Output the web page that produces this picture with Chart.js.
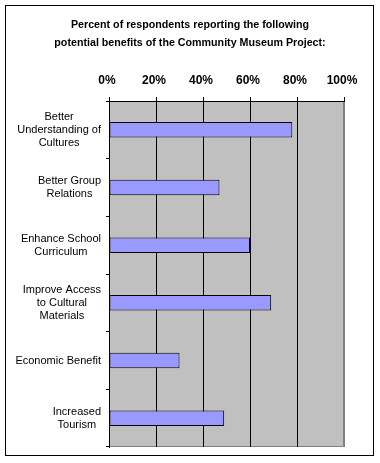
<!DOCTYPE html>
<html lang="en">
<head>
    <meta charset="utf-8">
    <title>Community Museum Project</title>
    <script src="https://cdn.jsdelivr.net/npm/chart.js"></script>
    <style>
        body { margin: 0; background: #fff; }
        #wrap { width: 380px; height: 463px; }
    </style>
</head>
<body>
<div id="wrap"><canvas id="chart" width="380" height="463"></canvas></div>

<script>
    // Data
    const categories = [
        ['Better', 'Understanding of', 'Cultures'],
        ['Better Group', 'Relations'],
        ['Enhance School', 'Curriculum'],
        ['Improve Access', 'to Cultural', 'Materials'],
        ['Economic Benefit'],
        ['Increased', 'Tourism']
    ];
    const percents = [78, 47, 60, 69, 30, 49];
    const tickValues = [0, 20, 40, 60, 80, 100];
    const titleLines = [
        'Percent of respondents reporting the following',
        'potential benefits of the Community Museum Project:'
    ];

    const FONT = '"Liberation Sans", Arial, sans-serif';

    // gray plot area + outer frame
    const frame = {
        id: 'frame',
        beforeDraw(chart) {
            const { ctx, chartArea: a } = chart;
            ctx.save();
            ctx.fillStyle = '#c0c0c0';
            ctx.fillRect(a.left, a.top, a.right - a.left, a.bottom - a.top);
            ctx.strokeStyle = '#808080';
            ctx.lineWidth = 1;
            ctx.beginPath();
            ctx.moveTo(a.right - 0.5, a.top);
            ctx.lineTo(a.right - 0.5, a.bottom - 0.5);
            ctx.lineTo(a.left, a.bottom - 0.5);
            ctx.stroke();
            ctx.strokeStyle = '#000';
            ctx.strokeRect(5.5, 5.5, 368, 450);
            ctx.restore();
        }
    };

    // category labels: each block right aligned, lines centred inside it
    const catLabels = {
        id: 'catLabels',
        afterDraw(chart) {
            const { ctx } = chart;
            const y = chart.scales.y;
            ctx.save();
            ctx.font = '11px ' + FONT;
            ctx.fillStyle = '#000';
            ctx.textAlign = 'center';
            ctx.textBaseline = 'middle';
            categories.forEach((lines, i) => {
                const w = Math.max(...lines.map(l => ctx.measureText(l).width));
                const cx = y.right - 8 - w / 2;
                const cy = y.getPixelForValue(i);
                lines.forEach((l, j) => {
                    ctx.fillText(l, cx, cy + (j - (lines.length - 1) / 2) * 13.3);
                });
            });
            ctx.restore();
        }
    };

    new Chart(document.getElementById('chart'), {
        type: 'bar',
        data: {
            labels: categories,
            datasets: [{
                data: percents,
                backgroundColor: '#9999ff',
                borderColor: '#000',
                borderWidth: 1,
                borderSkipped: false,
                categoryPercentage: 1,
                barPercentage: 0.27
            }]
        },
        options: {
            indexAxis: 'y',
            responsive: false,
            animation: false,
            layout: { padding: { left: 36, right: 36, top: 0, bottom: 16 } },
            plugins: {
                legend: { display: false },
                tooltip: { enabled: false },
                title: {
                    display: true,
                    text: titleLines,
                    color: '#000',
                    font: { family: FONT, size: 10.7, weight: 'bold', lineHeight: 1.7 },
                    padding: { top: 16, bottom: 0 }
                }
            },
            scales: {
                x: {
                    position: 'top',
                    min: 0,
                    max: 100,
                    afterBuildTicks: s => { s.ticks = tickValues.map(v => ({ value: v })); },
                    afterFit: s => { s.height = 101 - 16 - 2 * 10.7 * 1.7; },
                    ticks: {
                        color: '#000',
                        font: { family: FONT, size: 12, weight: 'bold' },
                        padding: 9,
                        labelOffset: -2,
                        callback: v => v + '%'
                    },
                    grid: {
                        color: c => c.tick && c.tick.value === 100 ? '#808080' : '#000',
                        tickColor: '#000',
                        tickLength: 4,
                        lineWidth: 1
                    },
                    border: { display: true, color: '#000' }
                },
                y: {
                    afterFit: s => { s.width = 109 - 36; },
                    ticks: { display: false },
                    grid: {
                        offset: true,
                        drawOnChartArea: false,
                        color: '#000',
                        tickLength: 3
                    },
                    border: { display: true, color: '#000' }
                }
            }
        },
        plugins: [frame, catLabels]
    });
</script>
</body>
</html>
